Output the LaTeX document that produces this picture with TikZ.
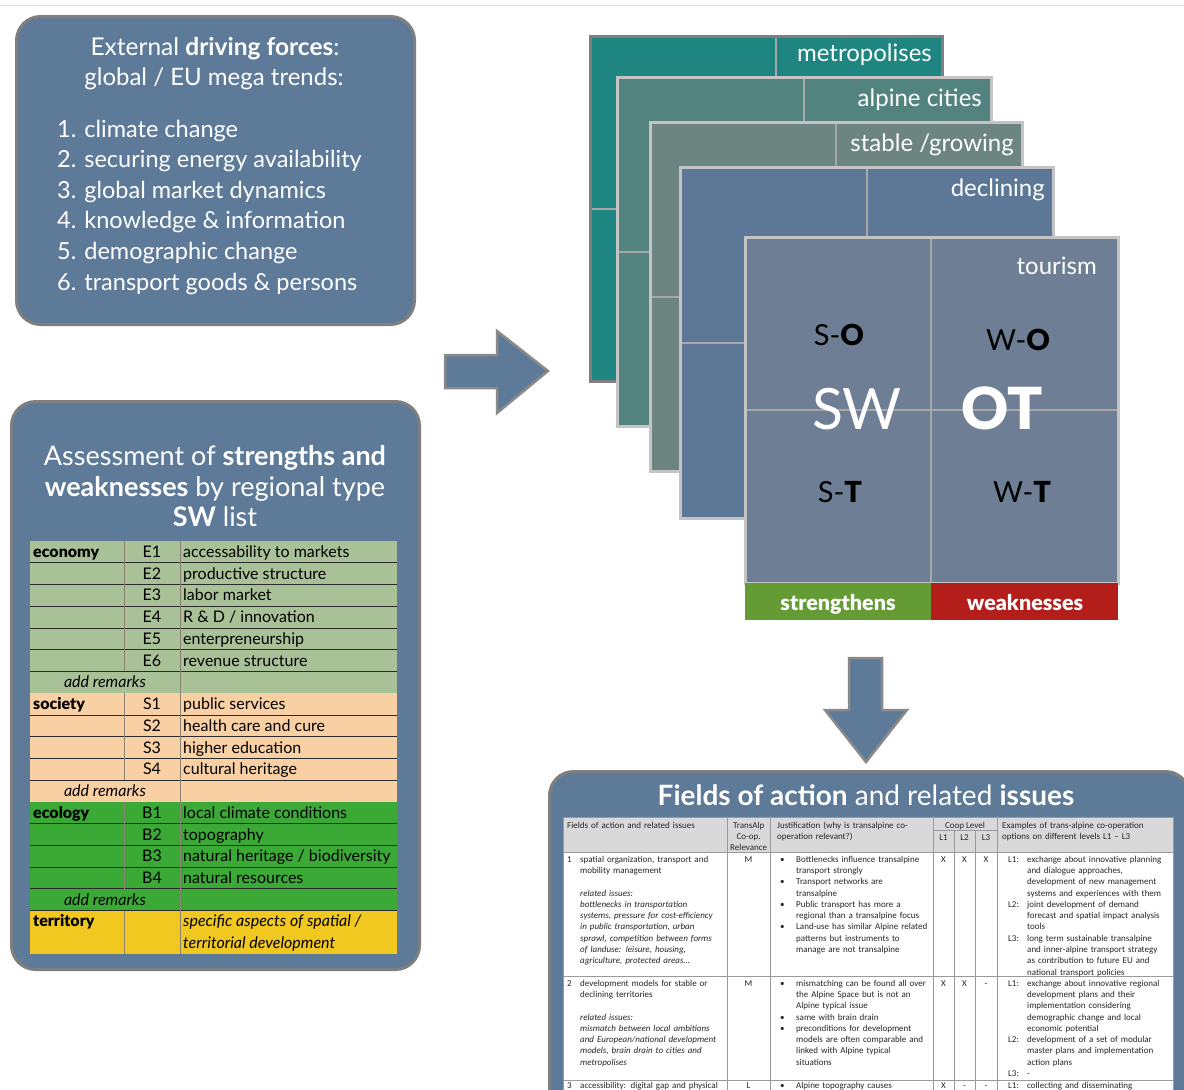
\documentclass[tikz,border=0pt]{standalone}
\usepackage{fontspec}
\setmainfont{Lato}
\newfontfamily\heavyfont{Lato Black}
\newfontfamily\tabfont{Carlito}
\definecolor{panel}{HTML}{5E7A99}
\definecolor{panelline}{HTML}{7F7F7F}
\definecolor{arrowedge}{HTML}{8A8A8A}
\definecolor{cardA}{HTML}{1E8581}
\definecolor{cardB}{HTML}{52837F}
\definecolor{cardC}{HTML}{6D8580}
\definecolor{cardD}{HTML}{5C7896}
\definecolor{cardE}{HTML}{6E7F95}
\definecolor{edgeA}{HTML}{7F7F7F}
\definecolor{cardedge}{HTML}{C4C4C4}
\definecolor{griddiv}{HTML}{A8A8A8}
\definecolor{ecoG}{HTML}{A8C197}
\definecolor{socP}{HTML}{F9D0A4}
\definecolor{ecoB}{HTML}{3BA935}
\definecolor{terY}{HTML}{F1C81F}
\definecolor{rowline}{HTML}{2A2A2A}
\definecolor{colline}{HTML}{8C8273}
\definecolor{strG}{HTML}{659B34}
\definecolor{weakR}{HTML}{B31D1A}
\definecolor{hdrgray}{HTML}{D9D9D9}
\definecolor{tabline}{HTML}{9A9A9A}
\definecolor{tabtext}{HTML}{262626}
\tikzset{
  panel/.style={draw=panelline, line width=3pt, fill=panel, rounded corners=24pt, inner sep=0pt, anchor=north west},
  wtxt/.style={text=white, inner sep=0pt},
  card/.style={fill=#1, inner sep=0pt, anchor=north west},
  divline/.style={draw=griddiv, line width=2pt},
  cardlab/.style={text=white, inner sep=0pt, anchor=base east, font=\fontsize{24}{28}\selectfont},
  blockarrow/.style={fill=panel, draw=arrowedge, line width=2.5pt, line join=miter},
  swtxt/.style={inner sep=0pt, text=black, font=\fontsize{16}{19}\selectfont},
  swotxt/.style={inner sep=0pt, anchor=base, text=black, font=\fontsize{29}{32}\selectfont},
  tcell/.style={inner sep=0pt, anchor=north west, align=left, text=tabtext, font=\tabfont\fontsize{9}{11.3}\selectfont, text width=#1},
  tmark/.style={inner sep=0pt, anchor=base, text=tabtext, font=\tabfont\fontsize{9}{11.3}\selectfont},
}
\newcommand{\tbul}{\makebox[16pt][l]{\textbullet}}
\newcommand{\tind}{\hspace*{16pt}}
\newcommand{\tlvl}[1]{\makebox[19pt][l]{#1}}
\newcommand{\tlin}{\hspace*{19pt}}
\begin{document}
\begin{tikzpicture}[x=1pt,y=-1pt]
\useasboundingbox (0,0) rectangle (1184,1090);
\clip (0,0) rectangle (1184,1090);
\fill[white] (0,0) rectangle (1184,1090);
\draw[black!12, line width=1pt] (0,5) -- (1184,5);

% ---------- driving forces panel ----------
\node[panel, minimum width=398pt, minimum height=308pt] (drive) at (15,15) {};
\node[wtxt, anchor=base, font=\fontsize{24.5}{28}\selectfont] (dfA) at (215,55) {External \textbf{driving forces}:};
\node[wtxt, anchor=base, font=\fontsize{24}{28}\selectfont] (dfB) at (214,85) {global / EU mega trends:};
\foreach \li/\yy/\tx in {1/137/climate change, 2/167.6/securing energy availability, 3/198.2/global market dynamics, 4/228.8/knowledge \& information, 5/259.4/demographic change, 6/290/transport goods \& persons}{
  \node[wtxt, anchor=base west, font=\fontsize{23.5}{28}\selectfont] (df\li) at (57,\yy) {\li. \tx};
}

% ---------- right arrow ----------
\draw[blockarrow] (445,355) -- (497,355) -- (497,331) -- (548,371) -- (497,413) -- (497,388) -- (445,388) -- cycle;

% ---------- SW panel ----------
\node[panel, minimum width=408pt, minimum height=568pt] (swpanel) at (10,400) {};
\node[wtxt, anchor=base, font=\fontsize{27}{31}\selectfont] (swA) at (215,465) {Assessment of \textbf{strengths and}};
\node[wtxt, anchor=base, font=\fontsize{27}{31}\selectfont] (swB) at (215,496) {\textbf{weaknesses} by regional type};
\node[wtxt, anchor=base, font=\fontsize{27}{31}\selectfont] (swC) at (215,526) {\textbf{SW} list};

\fill[ecoG] (30,541) rectangle (397,{541+7*21.74});
\fill[socP] (30,{541+7*21.74}) rectangle (397,{541+12*21.74});
\fill[ecoB] (30,{541+12*21.74}) rectangle (397,{541+17*21.74});
\fill[terY] (30,{541+17*21.74}) rectangle (397,954);
\foreach \i in {1,2,3,4,5,6,8,9,10,11,13,14,15,16,17}
  \draw[rowline, line width=0.8pt] (30,{541+\i*21.74}) -- (397,{541+\i*21.74});
\draw[colline, line width=0.8pt] (180,541) -- (180,954);
\foreach \ya/\yb in {0/6,7/11,12/16,17/19}
  \draw[colline, line width=0.8pt] (124,{541+\ya*21.74}) -- (124,{541+\yb*21.74});
\foreach \ri/\rk/\rc/\rt in {0/economy/E1/accessability to markets, 1//E2/productive structure, 2//E3/labor market, 3//E4/{R \& D / innovation}, 4//E5/enterpreneurship, 5//E6/revenue structure, 7/society/S1/public services, 8//S2/health care and cure, 9//S3/higher education, 10//S4/cultural heritage, 12/ecology/B1/local climate conditions, 13//B2/topography, 14//B3/{natural heritage / biodiversity}, 15//B4/natural resources}{
  \node[swtxt, anchor=base west] (swk\ri) at (33,{541+(\ri+0.5)*21.74+5.5}) {{\heavyfont\rk}};
  \node[swtxt, anchor=base] (swc\ri) at (152,{541+(\ri+0.5)*21.74+5.5}) {\rc};
  \node[swtxt, anchor=base west] (swt\ri) at (183,{541+(\ri+0.5)*21.74+5.5}) {\rt};
}
\foreach \ri in {6,11,16}
  \node[swtxt, anchor=base, font=\itshape\fontsize{16}{19}\selectfont] (swr\ri) at (105,{541+(\ri+0.5)*21.74+5.5}) {add remarks};
\node[swtxt, anchor=base west] (swk17) at (33,{541+17.5*21.74+5.5}) {{\heavyfont territory}};
\node[swtxt, anchor=base west, font=\itshape\fontsize{16}{19}\selectfont] (swt17) at (183,{541+17.5*21.74+5.5}) {specific aspects of spatial /};
\node[swtxt, anchor=base west, font=\itshape\fontsize{16}{19}\selectfont] (swt18) at (183,{541+18.5*21.74+5.5}) {territorial development};

% ---------- stacked cards ----------
\foreach \cn/\xl/\yt/\xr/\yb/\xd/\fc/\ec in {A/590/36/942/381/776/cardA/edgeA, B/617/77/991/426/804/cardB/cardedge, C/650/122/1022/471/836/cardC/cardedge, D/680/167/1053/518/867/cardD/cardedge, E/745/237/1118/583/931/cardE/cardedge}{
  \node[card=\fc, minimum width={(\xr-\xl)*1pt}, minimum height={(\yb-\yt)*1pt}] (card\cn) at (\xl,\yt) {};
  \draw[divline] (\xd,\yt) -- (\xd,\yb);
  \draw[divline] (\xl,{(\yt+\yb)/2}) -- (\xr,{(\yt+\yb)/2});
  \draw[draw=\ec, line width=3pt] (card\cn.north west) rectangle (card\cn.south east);
}
\node[cardlab] (labA) at (932,61) {metropolises};
\node[cardlab] (labB) at (982,106) {alpine cities};
\node[cardlab] (labC) at (1014,151) {stable /growing};
\node[cardlab] (labD) at (1045,196) {declining};
\node[cardlab] (labE) at (1097,274) {tourism};

\node[fill=strG, minimum width=186pt, minimum height=37pt, anchor=north west, inner sep=0pt] (stripS) at (745,583) {};
\node[fill=weakR, minimum width=187pt, minimum height=37pt, anchor=north west, inner sep=0pt] (stripW) at (931,583) {};
\node[text=white, inner sep=0pt, anchor=base, font=\heavyfont\fontsize{21.5}{24}\selectfont] (stripSl) at (838,610) {strengthens};
\node[text=white, inner sep=0pt, anchor=base, font=\heavyfont\fontsize{21.5}{24}\selectfont] (stripWl) at (1025,610) {weaknesses};

\node[swotxt] (so) at (839,345) {S-{\heavyfont O}};
\node[swotxt] (wo) at (1018,350) {W-{\heavyfont O}};
\node[swotxt] (st) at (840,502) {S-{\heavyfont T}};
\node[swotxt] (wt) at (1022,502) {W-{\heavyfont T}};
\node[inner sep=0pt, anchor=base, text=white, font=\fontsize{57}{60}\selectfont] (swbig) at (857,429) {SW};
\node[inner sep=0pt, anchor=base, text=white, font=\heavyfont\fontsize{58}{60}\selectfont] (otbig) at (1002,429) {OT};

% ---------- down arrow ----------
\draw[blockarrow] (849,658) -- (882,658) -- (882,710) -- (907,710) -- (866,762) -- (825,710) -- (849,710) -- cycle;

% ---------- fields panel ----------
\node[panel, minimum width=640pt, minimum height=340pt] (fields) at (548,770) {};
\node[wtxt, anchor=base, font=\fontsize{28}{32}\selectfont] (fT) at (866,805) {\textbf{Fields of action} and related \textbf{issues}};

\fill[white] (563,817) rectangle (1173,1100);
\fill[hdrgray] (563,817) rectangle (1173,852);
\draw[tabline, line width=0.8pt] (563,817) rectangle (1173,1100);
\foreach \x in {727,770,933,997} \draw[tabline, line width=0.8pt] (\x,817) -- (\x,1100);
\foreach \x in {954,975} \draw[tabline, line width=0.8pt] (\x,830) -- (\x,1100);
\draw[tabline, line width=0.8pt] (933,830) -- (997,830);
\foreach \y in {852,976,1080} \draw[tabline, line width=0.8pt] (563,\y) -- (1173,\y);

\node[tcell=160pt] (h1) at (567,820) {\strut Fields of action and related issues};
\node[tcell=43pt, align=center] (h2) at (727,820) {\strut TransAlp\\Co-op.\\Relevance};
\node[tcell=160pt] (h3) at (777,820) {\strut Justification (why is transalpine co-\\operation relevant?)};
\node[tmark] (h4) at (965,828) {Coop Level};
\node[tmark] (h5) at (943.5,840) {L1};
\node[tmark] (h6) at (964.5,840) {L2};
\node[tmark] (h7) at (986,840) {L3};
\node[tcell=172pt] (h8) at (1002,820) {\strut Examples of trans-alpine co-operation\\options on different levels L1 – L3};

% row 1
\node[tmark, anchor=base west] (r1n) at (567,862) {1};
\node[tcell=150pt] (r1a) at (580,854) {\strut spatial organization, transport and\\mobility management\\\mbox{}\\\itshape related issues:\\bottlenecks in transportation\\systems, pressure for cost-efficiency\\in public transportation, urban\\sprawl, competition between forms\\of landuse: leisure, housing,\\agriculture, protected areas…};
\node[tmark] (r1b) at (748.5,862) {M};
\node[tcell=175pt] (r1c) at (780,854) {\strut\tbul Bottlenecks influence transalpine\\\tind transport strongly\\\tbul Transport networks are\\\tind transalpine\\\tbul Public transport has more a\\\tind regional than a transalpine focus\\\tbul Land-use has similar Alpine related\\\tind patterns but instruments to\\\tind manage are not transalpine};
\node[tmark] (r1x1) at (943.5,862) {X};
\node[tmark] (r1x2) at (964.5,862) {X};
\node[tmark] (r1x3) at (986,862) {X};
\node[tcell=190pt] (r1e) at (1008,854) {\strut\tlvl{L1:}exchange about innovative planning\\\tlin and dialogue approaches,\\\tlin development of new management\\\tlin systems and experiences with them\\\tlvl{L2:}joint development of demand\\\tlin forecast and spatial impact analysis\\\tlin tools\\\tlvl{L3:}long term sustainable transalpine\\\tlin and inner-alpine transport strategy\\\tlin as contribution to future EU and\\\tlin national transport policies};

% row 2
\node[tmark, anchor=base west] (r2n) at (567,986) {2};
\node[tcell=150pt] (r2a) at (580,978) {\strut development models for stable or\\declining territories\\\mbox{}\\\itshape related issues:\\mismatch between local ambitions\\and European/national development\\models, brain drain to cities and\\metropolises};
\node[tmark] (r2b) at (748.5,986) {M};
\node[tcell=175pt] (r2c) at (780,978) {\strut\tbul mismatching can be found all over\\\tind the Alpine Space but is not an\\\tind Alpine typical issue\\\tbul same with brain drain\\\tbul preconditions for development\\\tind models are often comparable and\\\tind linked with Alpine typical\\\tind situations};
\node[tmark] (r2x1) at (943.5,986) {X};
\node[tmark] (r2x2) at (964.5,986) {X};
\node[tmark] (r2x3) at (986,986) {-};
\node[tcell=190pt] (r2e) at (1008,978) {\strut\tlvl{L1:}exchange about innovative regional\\\tlin development plans and their\\\tlin implementation considering\\\tlin demographic change and local\\\tlin economic potential\\\tlvl{L2:}development of a set of modular\\\tlin master plans and implementation\\\tlin action plans\\\tlvl{L3:}-};

% row 3
\node[tmark, anchor=base west] (r3n) at (567,1088) {3};
\node[tcell=170pt] (r3a) at (580,1080) {\strut accessibility: digital gap and physical};
\node[tmark] (r3b) at (748.5,1088) {L};
\node[tcell=175pt] (r3c) at (780,1080) {\strut\tbul Alpine topography causes};
\node[tmark] (r3x1) at (943.5,1088) {X};
\node[tmark] (r3x2) at (964.5,1088) {-};
\node[tmark] (r3x3) at (986,1088) {-};
\node[tcell=190pt] (r3e) at (1008,1080) {\strut\tlvl{L1:}collecting and disseminating};
\end{tikzpicture}
\end{document}
